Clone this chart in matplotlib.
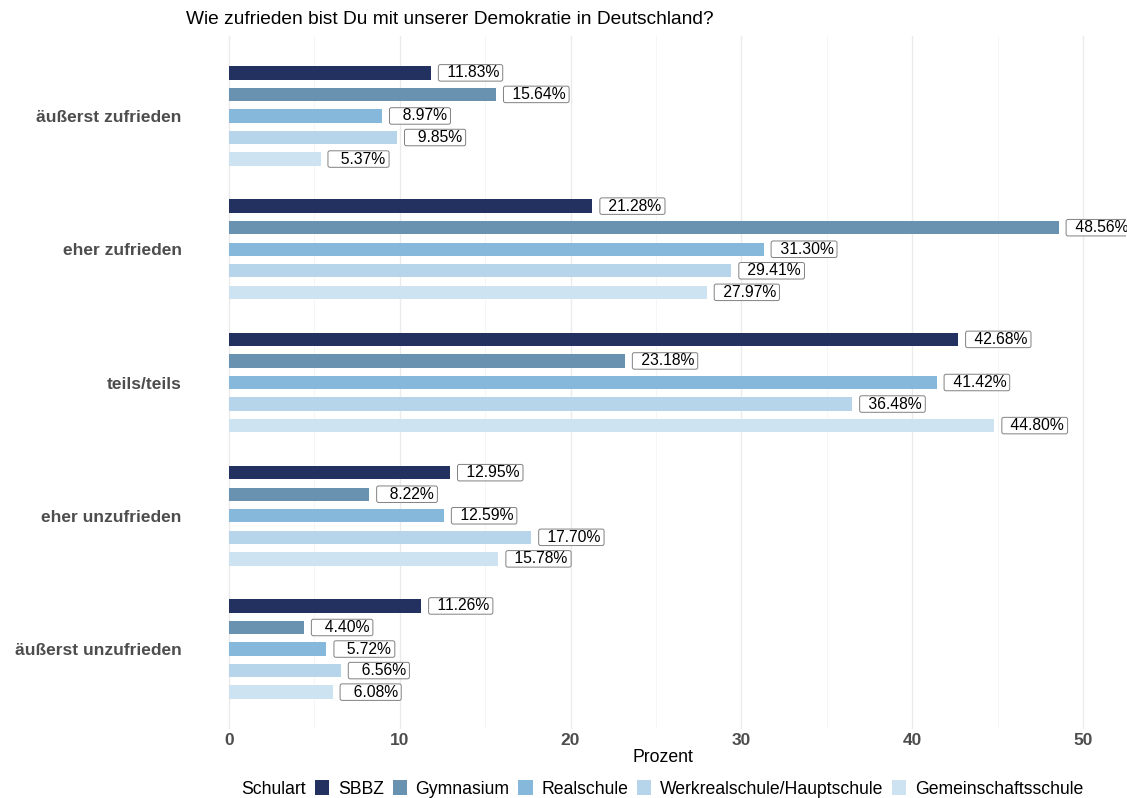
import matplotlib
matplotlib.use("Agg")
import matplotlib.pyplot as plt
from matplotlib.patches import FancyBboxPatch, Patch
from matplotlib.transforms import IdentityTransform
import numpy as np

plt.rcParams['font.family'] = ['Liberation Sans', 'DejaVu Sans']

categories = ["äußerst zufrieden", "eher zufrieden", "teils/teils",
              "eher unzufrieden", "äußerst unzufrieden"]
series_names = ["SBBZ", "Gymnasium", "Realschule",
                "Werkrealschule/Hauptschule", "Gemeinschaftsschule"]
sbbz = [11.83, 21.28, 42.68, 12.95, 11.26]
gymnasium = [15.64, 48.56, 23.18, 8.22, 4.40]
realschule = [8.97, 31.30, 41.42, 12.59, 5.72]
werkrealschule = [9.85, 29.41, 36.48, 17.70, 6.56]
gemeinschaftsschule = [5.37, 27.97, 44.80, 15.78, 6.08]
series_values = [sbbz, gymnasium, realschule, werkrealschule, gemeinschaftsschule]
colors = ["#223160", "#6892b0", "#86b8dc", "#b6d4ea", "#cde3f2"]
x_ticks = [0, 10, 20, 30, 40, 50]

W, H = 1127, 798
fig = plt.figure(figsize=(W / 100, H / 100), dpi=100)
# panel in pixel terms: left 186, right 1126, top 36, bottom 729
ax = fig.add_axes([186 / W, 1 - 729 / H, (1126 - 186) / W, (729 - 36) / H])

slot = 0.1617
bar_h = 0.10
ypos = np.arange(len(categories))
texts = []
for i, (name, vals, col) in enumerate(zip(series_names, series_values, colors)):
    yy = ypos + (i - 2) * slot
    ax.barh(yy, vals, height=bar_h, color=col, label=name, zorder=2)
    for y, v in zip(yy, vals):
        t = ax.annotate(f"{v:6.2f}%", xy=(v, y), xytext=(8.6, 0),
                        textcoords="offset points", ha="left", va="center",
                        fontsize=11.3, color="black", zorder=5,
                        annotation_clip=False)
        texts.append(t)

ax.set_xlim(-2.5, 52.5)
ax.set_ylim(len(categories) - 1 + 0.6, -0.6)
ax.set_yticks(ypos)
ax.set_yticklabels(categories, fontsize=12.5, fontweight="bold", color="#4d4d4d")
ax.set_xticks(x_ticks)
ax.set_xticklabels([str(x) for x in x_ticks], fontsize=12.5,
                   fontweight="bold", color="#4d4d4d")
ax.set_xticks([5, 15, 25, 35, 45], minor=True)
ax.tick_params(axis="both", length=0, which="both")
ax.tick_params(axis="y", pad=3)
ax.tick_params(axis="x", pad=3)
ax.grid(axis="x", which="major", color="#ebebeb", linewidth=1.0, zorder=0)
ax.grid(axis="x", which="minor", color="#f4f4f4", linewidth=0.6, zorder=0)
ax.grid(axis="y", visible=False)
for s in ax.spines.values():
    s.set_visible(False)
ax.set_axisbelow(True)

fig.text(663 / W, 1 - 757 / H, "Prozent", ha="center", va="center",
         fontsize=12.7, color="black")
fig.text(186 / W, 1 - 20 / H, "Wie zufrieden bist Du mit unserer Demokratie in Deutschland?",
         ha="left", va="center", fontsize=13.8, color="black")

# legend row with the title to the left
handles = [Patch(facecolor="none", edgecolor="none")] + \
          [Patch(facecolor=c, edgecolor="none") for c in colors]
labels = ["Schulart"] + series_names
leg = fig.legend(handles, labels, loc="center", ncol=6, frameon=False,
                 fontsize=12.7, handlelength=0.8, handleheight=0.9,
                 handletextpad=0.5, columnspacing=0.5,
                 bbox_to_anchor=(651 / W, 1 - 789 / H))

# white boxes behind the value labels
fig.canvas.draw()
renderer = fig.canvas.get_renderer()
padl, padr, box_h = 4.5, 3.5, 16.5
for t in texts:
    bb = t.get_window_extent(renderer)
    cy = (bb.y0 + bb.y1) / 2
    patch = FancyBboxPatch((bb.x0 - padl, cy - box_h / 2),
                           bb.width + padl + padr, box_h,
                           boxstyle="round,pad=0,rounding_size=2",
                           facecolor="white", edgecolor="#808080",
                           linewidth=0.7, transform=IdentityTransform(),
                           zorder=4)
    ax.add_artist(patch)

fig.savefig("out.png", dpi=100)
